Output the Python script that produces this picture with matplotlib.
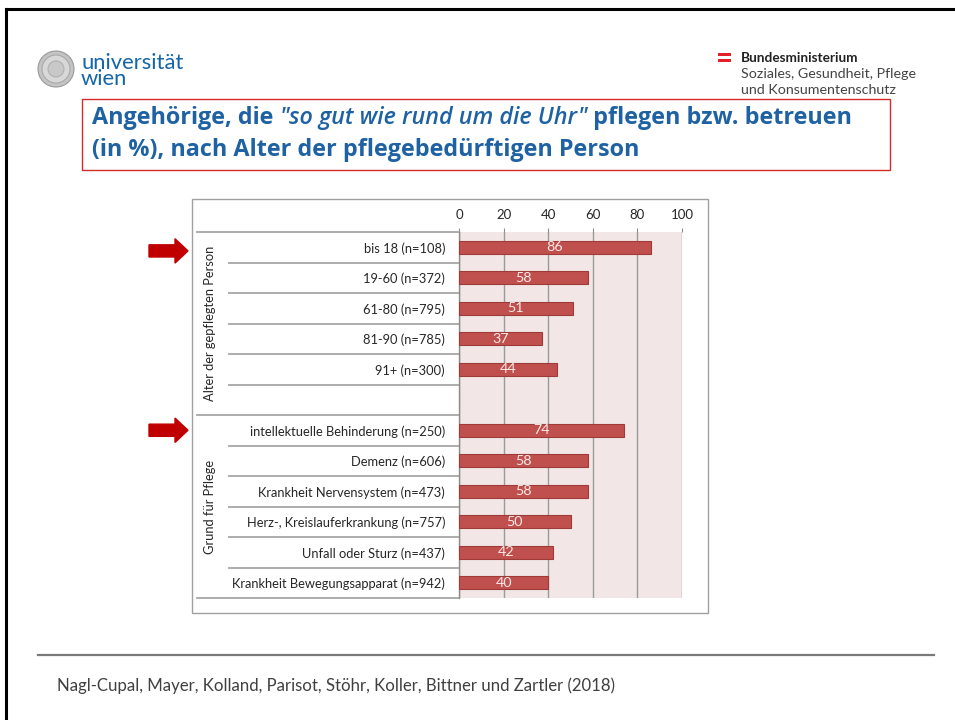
import numpy as np
import matplotlib.pyplot as plt
from matplotlib.patches import Rectangle, Polygon, Ellipse

# chart data
labels = ["bis 18 (n=108)", "19-60 (n=372)", "61-80 (n=795)", "81-90 (n=785)",
          "91+ (n=300)", "",
          "intellektuelle Behinderung (n=250)", "Demenz (n=606)",
          "Krankheit Nervensystem (n=473)", "Herz-, Kreislauferkrankung (n=757)",
          "Unfall oder Sturz (n=437)", "Krankheit Bewegungsapparat (n=942)"]
values = [86, 58, 51, 37, 44, None, 74, 58, 58, 50, 42, 40]
groups = ["Alter der gepflegten Person", "Grund für Pflege"]
group_rows = [(0, 5), (6, 11)]
highlight_rows = [0, 6]
xticks = [0, 20, 40, 60, 80, 100]

title_line1 = [("Angehörige, die ", "normal", "bold"),
               ('"so gut wie rund um die Uhr"', "italic", "semibold"),
               (" pflegen bzw. betreuen", "normal", "bold")]
title_line2 = "(in %), nach Alter der pflegebedürftigen Person"
source = "Nagl-Cupal, Mayer, Kolland, Parisot, Stöhr, Koller, Bittner und Zartler (2018)"

W, H = 955, 720
FONT = "Lato"
TFONT = "Open Sans"
BLUE = "#1f62a4"


def fx(x):
    return x / W


def fy(y):
    return 1 - y / H


fig = plt.figure(figsize=(W / 100, H / 100), dpi=100)
renderer = fig.canvas.get_renderer()

# slide frame (top and left black edges)
fig.add_artist(plt.Line2D([fx(6), 1], [fy(9), fy(9)], color="black", lw=2.2))
fig.add_artist(plt.Line2D([fx(6), fx(6)], [fy(9), 0], color="black", lw=2.2))

# university logo
for r, fc, ec in [(18, "#c4c4c4", "#9a9a9a"), (14, "#d8d8d8", "#a8a8a8"), (8, "#c8c8c8", "#b0b0b0")]:
    fig.add_artist(Ellipse((fx(56), fy(69)), 2 * r / W, 2 * r / H, transform=fig.transFigure,
                           facecolor=fc, edgecolor=ec, lw=0.8))
fig.text(fx(81), fy(85), "universität\nwien", fontsize=15.8, family=FONT, color="#1565a8",
         va="baseline", ha="left", linespacing=0.72)

# ministry logo
fig.add_artist(Rectangle((fx(718), fy(55.5)), 13 / W, 3 / H, transform=fig.transFigure,
                         color="#e4202a", lw=0))
fig.add_artist(Rectangle((fx(718), fy(61.5)), 13 / W, 3 / H, transform=fig.transFigure,
                         color="#e4202a", lw=0))
fig.text(fx(741), fy(58), "Bundesministerium", fontsize=9.8, family=FONT,
         weight="bold", color="#222222", va="center")
fig.text(fx(741), fy(74), "Soziales, Gesundheit, Pflege", fontsize=10.3, family=FONT,
         color="#444444", va="center")
fig.text(fx(741), fy(90), "und Konsumentenschutz", fontsize=10.3, family=FONT,
         color="#444444", va="center")

# title box
fig.add_artist(Rectangle((fx(82), fy(170)), 808 / W, 71 / H, transform=fig.transFigure,
                         facecolor="white", edgecolor="#d42a2a", lw=1))
x = fx(92)
for text, style, weight in title_line1:
    t = fig.text(x, fy(118), text, fontsize=16.8, family=TFONT, style=style,
                 weight=weight, color=BLUE, va="center", ha="left")
    x += t.get_window_extent(renderer).width / W
fig.text(fx(92), fy(150), title_line2, fontsize=16.8, family=TFONT, weight="bold",
         color=BLUE, va="center", ha="left")

# chart frame
fig.add_artist(Rectangle((fx(192), fy(613)), 516 / W, 414 / H, transform=fig.transFigure,
                         facecolor="white", edgecolor="#a0a0a0", lw=1, zorder=0))

ax = fig.add_axes([fx(459), fy(598), 223 / W, 366 / H])
pos = np.arange(len(labels))
for i, v in enumerate(values):
    if v is None:
        continue
    ax.barh(i, v, height=0.42, color="#c0504d", edgecolor="#9e3b38", lw=0.8, zorder=3)
    ax.text(v / 2, i, str(v), ha="center", va="center", fontsize=10.3, family=FONT,
            color="#f8e8e8", zorder=4)

ax.set_xlim(0, 100)
ax.set_ylim(len(labels) - 0.5, -0.5)
ax.set_facecolor("#f2e7e6")
ax.xaxis.tick_top()
ax.set_xticks(xticks)
ax.set_xticklabels([str(t) for t in xticks], fontsize=9.5, family=FONT, color="#262626")
ax.tick_params(axis="x", length=3, color="#8c8c8c", pad=5)
ax.grid(axis="x", color="#9a9a9a", lw=1)
ax.set_axisbelow(True)
ax.set_yticks(pos)
ax.set_yticklabels(labels, fontsize=9.3, family=FONT, color="#262626")
ax.tick_params(axis="y", length=0, pad=10)
for s in ["top", "right", "bottom"]:
    ax.spines[s].set_visible(False)
ax.spines["left"].set_color("#8c8c8c")
ax.spines["left"].set_linewidth(1)

# row separators (short inside a group, long between groups)
ytr = ax.get_yaxis_transform()
x_short = (229 - 459) / 223
x_long = (197 - 459) / 223
for b in np.arange(-0.5, len(labels)):
    edge = b in (-0.5, 5.5, len(labels) - 0.5)
    ax.plot([x_long if edge else x_short, 0], [b, b], color="#a6a6a6", lw=1.3,
            transform=ytr, clip_on=False)

# group labels
ax_x = (210 - 459) / 223
for name, (r0, r1) in zip(groups, group_rows):
    ax.text(ax_x, (r0 + r1) / 2, name, rotation=90, ha="center", va="center",
            fontsize=9.3, family=FONT, color="#262626", transform=ytr)

# red arrows
for r in highlight_rows:
    x0, x1, x2 = (149 - 459) / 223, (175 - 459) / 223, (188 - 459) / 223
    yc = r + 0.12 if r == 0 else r
    bh, hh = 0.2, 0.4
    pts = [(x0, yc - bh), (x1, yc - bh), (x1, yc - hh), (x2, yc), (x1, yc + hh),
           (x1, yc + bh), (x0, yc + bh)]
    ax.add_patch(Polygon(pts, closed=True, color="#c00000", transform=ytr, clip_on=False))

# footer
fig.add_artist(plt.Line2D([fx(38), fx(934)], [fy(655), fy(655)], color="#7a7a7a", lw=1.6))
fig.text(fx(57), fy(686), source, fontsize=12.1, family=FONT,
         color="#404040", va="center", ha="left")

fig.savefig("out.png", dpi=100)
